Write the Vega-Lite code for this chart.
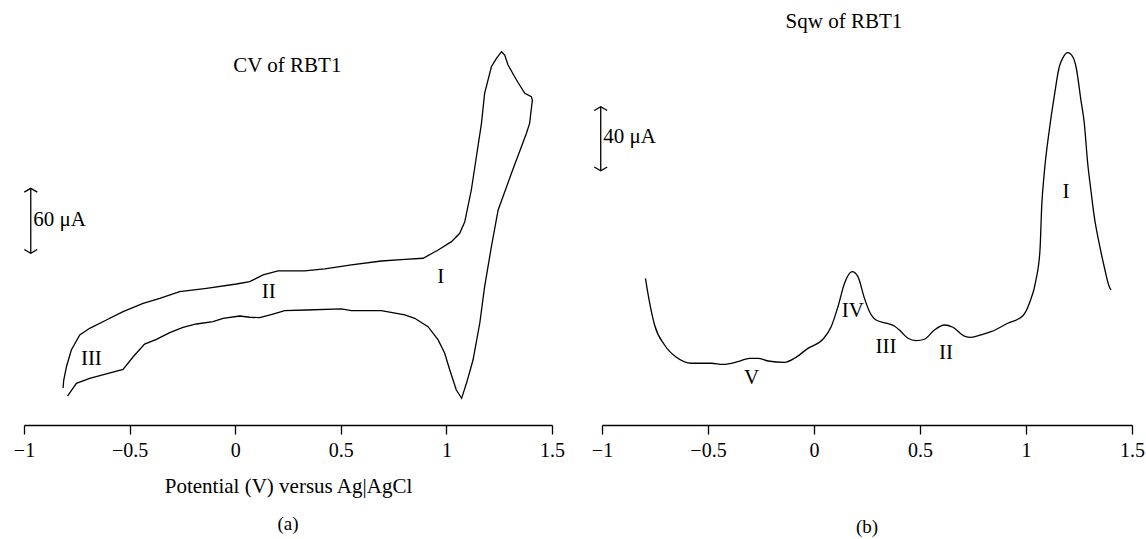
{
  "$schema": "https://vega.github.io/schema/vega-lite/v6.json",
  "background": "white",
  "padding": {"left": 13, "top": 0, "right": 0, "bottom": 0},
  "spacing": 50,
  "bounds": "flush",
  "config": {
    "view": {"stroke": null},
    "font": "Liberation Serif",
    "axisX": {
      "grid": false,
      "domainColor": "black",
      "domainWidth": 1.3,
      "tickColor": "black",
      "tickWidth": 1.3,
      "tickSize": 9,
      "labelFont": "Liberation Serif",
      "labelFontSize": 20,
      "labelColor": "black",
      "labelPadding": 6,
      "labelFlush": false,
      "labelOverlap": false,
      "titleFont": "Liberation Serif",
      "titleFontSize": 21,
      "titleFontWeight": "normal",
      "titleColor": "black",
      "titlePadding": 15
    },
    "title": {"font": "Liberation Serif", "fontSize": 19, "fontWeight": "normal", "color": "black", "orient": "bottom"}
  },
  "datasets": {
    "cv": [
      {"i": 1, "E": -0.815, "I": 35.2}, {"i": 2, "E": -0.812, "I": 42.6}, {"i": 3, "E": -0.799, "I": 55.5},
      {"i": 4, "E": -0.776, "I": 71.4}, {"i": 5, "E": -0.736, "I": 85.7}, {"i": 6, "E": -0.689, "I": 92.1},
      {"i": 7, "E": -0.610, "I": 100.0}, {"i": 8, "E": -0.531, "I": 107.9}, {"i": 9, "E": -0.436, "I": 115.9},
      {"i": 10, "E": -0.357, "I": 120.7}, {"i": 11, "E": -0.263, "I": 127.0}, {"i": 12, "E": -0.136, "I": 130.2},
      {"i": 13, "E": 0.006, "I": 134.3}, {"i": 14, "E": 0.069, "I": 136.5}, {"i": 15, "E": 0.132, "I": 142.9},
      {"i": 16, "E": 0.203, "I": 146.7}, {"i": 17, "E": 0.329, "I": 146.7}, {"i": 18, "E": 0.424, "I": 148.6},
      {"i": 19, "E": 0.550, "I": 152.4}, {"i": 20, "E": 0.692, "I": 156.2}, {"i": 21, "E": 0.803, "I": 157.8},
      {"i": 22, "E": 0.890, "I": 158.8}, {"i": 23, "E": 0.961, "I": 166.7}, {"i": 24, "E": 1.024, "I": 174.6},
      {"i": 25, "E": 1.063, "I": 182.6}, {"i": 26, "E": 1.087, "I": 193.6}, {"i": 27, "E": 1.118, "I": 223.8},
      {"i": 28, "E": 1.142, "I": 255.5}, {"i": 29, "E": 1.166, "I": 287.3}, {"i": 30, "E": 1.181, "I": 315.9},
      {"i": 31, "E": 1.213, "I": 341.2}, {"i": 32, "E": 1.237, "I": 349.2}, {"i": 33, "E": 1.261, "I": 355.5},
      {"i": 34, "E": 1.276, "I": 352.4}, {"i": 35, "E": 1.292, "I": 342.9}, {"i": 36, "E": 1.332, "I": 328.6},
      {"i": 37, "E": 1.371, "I": 315.9}, {"i": 38, "E": 1.402, "I": 312.7}, {"i": 39, "E": 1.407, "I": 309.5},
      {"i": 40, "E": 1.394, "I": 287.3}, {"i": 41, "E": 1.379, "I": 277.8}, {"i": 42, "E": 1.308, "I": 239.7},
      {"i": 43, "E": 1.245, "I": 204.8}, {"i": 44, "E": 1.213, "I": 169.8}, {"i": 45, "E": 1.181, "I": 131.7},
      {"i": 46, "E": 1.158, "I": 96.9}, {"i": 47, "E": 1.126, "I": 61.9}, {"i": 48, "E": 1.095, "I": 39.7},
      {"i": 49, "E": 1.072, "I": 25.4}, {"i": 50, "E": 1.047, "I": 33.3}, {"i": 51, "E": 1.016, "I": 52.4},
      {"i": 52, "E": 0.992, "I": 68.3}, {"i": 53, "E": 0.961, "I": 81.0}, {"i": 54, "E": 0.913, "I": 93.6},
      {"i": 55, "E": 0.850, "I": 101.6}, {"i": 56, "E": 0.803, "I": 104.8}, {"i": 57, "E": 0.692, "I": 108.9},
      {"i": 58, "E": 0.550, "I": 108.9}, {"i": 59, "E": 0.503, "I": 110.5}, {"i": 60, "E": 0.337, "I": 109.5},
      {"i": 61, "E": 0.234, "I": 108.9}, {"i": 62, "E": 0.179, "I": 105.7}, {"i": 63, "E": 0.116, "I": 102.2},
      {"i": 64, "E": 0.069, "I": 102.6}, {"i": 65, "E": 0.021, "I": 103.8}, {"i": 66, "E": -0.057, "I": 101.6},
      {"i": 67, "E": -0.105, "I": 98.4}, {"i": 68, "E": -0.184, "I": 96.2}, {"i": 69, "E": -0.247, "I": 93.0},
      {"i": 70, "E": -0.310, "I": 87.9}, {"i": 71, "E": -0.373, "I": 81.6}, {"i": 72, "E": -0.429, "I": 77.1},
      {"i": 73, "E": -0.483, "I": 65.0}, {"i": 74, "E": -0.531, "I": 53.0}, {"i": 75, "E": -0.610, "I": 48.6},
      {"i": 76, "E": -0.689, "I": 44.5}, {"i": 77, "E": -0.752, "I": 39.7}, {"i": 78, "E": -0.794, "I": 27.6}
    ],
    "sqw": [
      {"E": -0.795, "I": 91.7}, {"E": -0.775, "I": 76.1}, {"E": -0.752, "I": 62.5}, {"E": -0.705, "I": 50.0},
      {"E": -0.649, "I": 42.3}, {"E": -0.579, "I": 38.6}, {"E": -0.484, "I": 38.6}, {"E": -0.429, "I": 37.9},
      {"E": -0.359, "I": 39.6}, {"E": -0.304, "I": 41.7}, {"E": -0.264, "I": 41.7}, {"E": -0.217, "I": 40.0},
      {"E": -0.139, "I": 39.2}, {"E": -0.092, "I": 41.7}, {"E": -0.029, "I": 47.9}, {"E": 0.042, "I": 53.6},
      {"E": 0.081, "I": 61.4}, {"E": 0.113, "I": 73.9}, {"E": 0.144, "I": 88.6}, {"E": 0.180, "I": 95.8},
      {"E": 0.207, "I": 92.7}, {"E": 0.238, "I": 79.2}, {"E": 0.262, "I": 70.8}, {"E": 0.293, "I": 65.6},
      {"E": 0.340, "I": 63.6}, {"E": 0.379, "I": 61.9}, {"E": 0.411, "I": 58.3}, {"E": 0.443, "I": 54.2},
      {"E": 0.482, "I": 52.7}, {"E": 0.521, "I": 53.6}, {"E": 0.568, "I": 59.4}, {"E": 0.615, "I": 62.5},
      {"E": 0.655, "I": 61.1}, {"E": 0.709, "I": 55.6}, {"E": 0.741, "I": 54.8}, {"E": 0.788, "I": 56.3},
      {"E": 0.835, "I": 58.3}, {"E": 0.914, "I": 63.6}, {"E": 0.984, "I": 68.1}, {"E": 1.016, "I": 76.1},
      {"E": 1.047, "I": 90.6}, {"E": 1.066, "I": 109.4}, {"E": 1.074, "I": 136.4}, {"E": 1.086, "I": 157.3},
      {"E": 1.110, "I": 184.4}, {"E": 1.133, "I": 205.2}, {"E": 1.157, "I": 223.9}, {"E": 1.173, "I": 229.2},
      {"E": 1.197, "I": 232.7}, {"E": 1.220, "I": 230.2}, {"E": 1.236, "I": 223.9}, {"E": 1.259, "I": 203.1},
      {"E": 1.275, "I": 188.6}, {"E": 1.291, "I": 163.6}, {"E": 1.306, "I": 146.9}, {"E": 1.322, "I": 130.2},
      {"E": 1.345, "I": 113.6}, {"E": 1.369, "I": 98.9}, {"E": 1.393, "I": 86.4}, {"E": 1.401, "I": 84.4}
    ]
  },
  "hconcat": [
    {
      "width": 528,
      "height": 425,
      "title": {"text": "(a)", "offset": 19},
      "layer": [
        {
          "data": {"name": "cv"},
          "mark": {"type": "line", "color": "black", "strokeWidth": 1.3},
          "encoding": {
            "x": {"field": "E", "type": "quantitative", "scale": {"domain": [-1, 1.5], "nice": false, "zero": false}, "axis": {"title": "Potential (V) versus Ag|AgCl", "values": [-1, -0.5, 0, 0.5, 1, 1.5], "format": "~g"}},
            "y": {"field": "I", "type": "quantitative", "scale": {"domain": [0, 404.76], "nice": false, "zero": false}, "axis": null},
            "order": {"field": "i", "type": "quantitative"}
          }
        },
        {
          "data": {"values": [{"E": 0.247, "I": 342.2, "t": "CV of RBT1"}, {"E": 0.159, "I": 127.0, "t": "II"}, {"E": 0.973, "I": 140.6, "t": "I"}, {"E": -0.681, "I": 62.6, "t": "III"}]},
          "mark": {"type": "text", "font": "Liberation Serif", "fontSize": 21, "color": "black", "align": "center", "baseline": "middle"},
          "encoding": {"x": {"field": "E", "type": "quantitative"}, "y": {"field": "I", "type": "quantitative"}, "text": {"field": "t"}}
        },
        {
          "data": {"values": [{"E": -0.956, "I": 195.2, "t": "60 μA"}]},
          "mark": {"type": "text", "font": "Liberation Serif", "fontSize": 21, "color": "black", "align": "left", "baseline": "middle"},
          "encoding": {"x": {"field": "E", "type": "quantitative"}, "y": {"field": "I", "type": "quantitative"}, "text": {"field": "t"}}
        },
        {
          "data": {"values": [{"E": -0.968, "I": 163.5, "I2": 225.4}]},
          "mark": {"type": "rule", "color": "black", "strokeWidth": 1.3},
          "encoding": {"x": {"field": "E", "type": "quantitative"}, "y": {"field": "I", "type": "quantitative"}, "y2": {"field": "I2"}}
        },
        {
          "data": {"values": [{"E": -0.968, "I": 225.4}]},
          "mark": {"type": "point", "shape": "M-1,0.58L0,0L1,0.58", "size": 169, "filled": false, "stroke": "black", "strokeWidth": 1.3, "opacity": 1},
          "encoding": {"x": {"field": "E", "type": "quantitative"}, "y": {"field": "I", "type": "quantitative"}}
        },
        {
          "data": {"values": [{"E": -0.968, "I": 163.5}]},
          "mark": {"type": "point", "shape": "M-1,-0.58L0,0L1,-0.58", "size": 169, "filled": false, "stroke": "black", "strokeWidth": 1.3, "opacity": 1},
          "encoding": {"x": {"field": "E", "type": "quantitative"}, "y": {"field": "I", "type": "quantitative"}}
        }
      ]
    },
    {
      "width": 530,
      "height": 425,
      "title": {"text": "(b)", "offset": 58},
      "layer": [
        {
          "data": {"name": "sqw"},
          "mark": {"type": "line", "color": "black", "strokeWidth": 1.3, "interpolate": "monotone"},
          "encoding": {
            "x": {"field": "E", "type": "quantitative", "scale": {"domain": [-1, 1.5], "nice": false, "zero": false}, "axis": {"title": null, "values": [-1, -0.5, 0, 0.5, 1, 1.5], "format": "~g"}},
            "y": {"field": "I", "type": "quantitative", "scale": {"domain": [0, 265.625], "nice": false, "zero": false}, "axis": null}
          }
        },
        {
          "data": {"values": [{"E": 0.141, "I": 251.9, "t": "Sqw of RBT1"}, {"E": -0.295, "I": 29.4, "t": "V"}, {"E": 0.183, "I": 71.3, "t": "IV"}, {"E": 0.340, "I": 48.9, "t": "III"}, {"E": 0.623, "I": 44.8, "t": "II"}, {"E": 1.189, "I": 145.8, "t": "I"}]},
          "mark": {"type": "text", "font": "Liberation Serif", "fontSize": 21, "color": "black", "align": "center", "baseline": "middle"},
          "encoding": {"x": {"field": "E", "type": "quantitative"}, "y": {"field": "I", "type": "quantitative"}, "text": {"field": "t"}}
        },
        {
          "data": {"values": [{"E": -0.994, "I": 180.2, "t": "40 μA"}]},
          "mark": {"type": "text", "font": "Liberation Serif", "fontSize": 21, "color": "black", "align": "left", "baseline": "middle"},
          "encoding": {"x": {"field": "E", "type": "quantitative"}, "y": {"field": "I", "type": "quantitative"}, "text": {"field": "t"}}
        },
        {
          "data": {"values": [{"E": -1.006, "I": 158.9, "I2": 198.9}]},
          "mark": {"type": "rule", "color": "black", "strokeWidth": 1.3},
          "encoding": {"x": {"field": "E", "type": "quantitative"}, "y": {"field": "I", "type": "quantitative"}, "y2": {"field": "I2"}}
        },
        {
          "data": {"values": [{"E": -1.006, "I": 198.9}]},
          "mark": {"type": "point", "shape": "M-1,0.58L0,0L1,0.58", "size": 169, "filled": false, "stroke": "black", "strokeWidth": 1.3, "opacity": 1},
          "encoding": {"x": {"field": "E", "type": "quantitative"}, "y": {"field": "I", "type": "quantitative"}}
        },
        {
          "data": {"values": [{"E": -1.006, "I": 158.9}]},
          "mark": {"type": "point", "shape": "M-1,-0.58L0,0L1,-0.58", "size": 169, "filled": false, "stroke": "black", "strokeWidth": 1.3, "opacity": 1},
          "encoding": {"x": {"field": "E", "type": "quantitative"}, "y": {"field": "I", "type": "quantitative"}}
        }
      ]
    }
  ]
}
